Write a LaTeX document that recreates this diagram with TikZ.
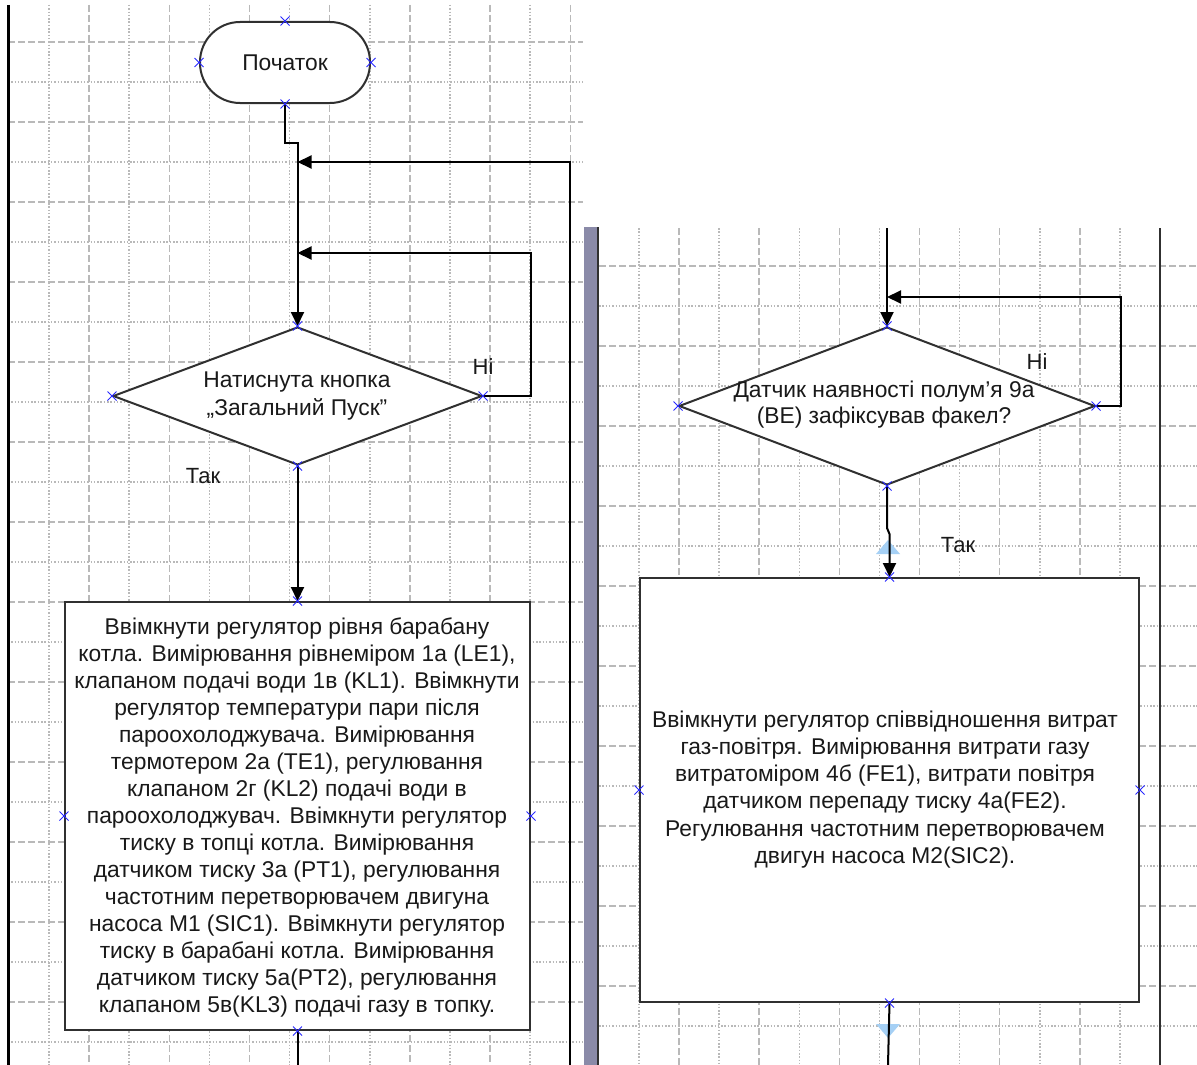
\documentclass[tikz,border=0pt]{standalone}
\usepackage{fontspec}
\setmainfont{Liberation Sans}
\usetikzlibrary{shapes.geometric,shapes.misc,arrows.meta}
\definecolor{gridc}{RGB}{185,185,185}
\definecolor{barc}{RGB}{138,138,168}
\definecolor{linec}{RGB}{48,48,48}
\definecolor{txtc}{RGB}{25,25,25}
\definecolor{markc}{RGB}{40,40,255}
\definecolor{handc}{RGB}{165,208,245}
\begin{document}
\begin{tikzpicture}[x=1pt,y=-1pt,
 gdash/.style={draw=gridc,line width=1.5pt,dash pattern=on 7pt off 3pt},
 gdot/.style={draw=gridc,line width=1.5pt,dash pattern=on 1.5pt off 1.8pt},
 shapeline/.style={draw=linec,line width=2pt,fill=white},
 term/.style={shapeline,rectangle,rounded corners=40pt,minimum width=170pt,minimum height=81pt,inner sep=0pt},
 decision/.style={shapeline,diamond,inner sep=0pt},
 procbox/.style={shapeline,rectangle,inner sep=0pt},
 txt/.style={text=txtc,font=\fontsize{22.8}{27.07}\selectfont,align=center,inner sep=0pt},
 conn/.style={draw=black,line width=2pt},
 arr/.style={conn,-{Triangle[length=14pt,width=13pt]}},
 xmark/.style={cross out,draw=markc,line width=1pt,minimum size=8pt,inner sep=0pt},
 lbl/.style={text=txtc,font=\fontsize{22}{25}\selectfont,inner sep=0pt},
]
\useasboundingbox (0,0) rectangle (1197,1065);
\fill[white] (0,0) rectangle (1197,1065);
% left grid
\foreach \xx in {49,129.2,209.4,289.6,369.8,450,530.2}{
  \draw[gdot] (\xx,5) -- (\xx,1065);
}
\foreach \xx in {89.1,169.3,249.5,329.7,409.9,490.1,570.3}{
  \draw[gdash] (\xx,5) -- (\xx,1065);
}
\foreach \yy in {42,122,...,1042}{
  \draw[gdash] (8,\yy) -- (583,\yy);
}
\foreach \yy in {82,162,...,1042}{
  \draw[gdot] (8,\yy) -- (583,\yy);
}
% right grid
\foreach \xx in {639,719.2,799.3,879.5,959.6,1039.8,1120}{
  \draw[gdot] (\xx,228) -- (\xx,1065);
}
\foreach \xx in {679.1,759.2,839.4,919.6,999.7,1079.9,1160}{
  \draw[gdash] (\xx,228) -- (\xx,1065);
}
\foreach \yy in {266,346,...,1026}{
  \draw[gdash] (599,\yy) -- (1197,\yy);
}
\foreach \yy in {306,386,...,1066}{
  \draw[gdot] (599,\yy) -- (1197,\yy);
}
% panel borders
\draw[black,line width=2.5pt] (8.5,5) -- (8.5,1065);
\fill[barc] (584,227) rectangle (597,1065);
\draw[linec,line width=2pt] (598,227) -- (598,1065);
\draw[linec,line width=2.5pt] (1160,228) -- (1160,1065);
% handles
\fill[handc] (876,554) -- (888,540) -- (900,554) -- cycle;
\fill[handc] (876,1024) -- (900,1024) -- (888,1038) -- cycle;
% nodes
\node[term,font=\fontsize{22.8}{27}\selectfont,text=txtc] (start) at (285,62.5) {Початок};
\node[decision,minimum width=369pt,minimum height=138pt] (d1) at (297.5,396) {};
\node[txt] (d1t) at (297,396) {Натиснута кнопка\\„Загальний Пуск"};
\node[procbox,minimum width=465pt,minimum height=428pt] (b1) at (297.5,816) {};
\node[txt] (b1t) at (297,817.5) {Ввімкнути регулятор рівня барабану\\
котла. Вимірювання рівнеміром 1а (LE1),\\
клапаном подачі води 1в (KL1). Ввімкнути\\
регулятор температури пари після\\
пароохолоджувача. Вимірювання\\
термотером 2а (TE1), регулювання\\
клапаном 2г (KL2) подачі води в\\
пароохолоджувач. Ввімкнути регулятор\\
тиску в топці котла. Вимірювання\\
датчиком тиску 3а (PT1), регулювання\\
частотним перетворювачем двигуна\\
насоса М1 (SIC1). Ввімкнути регулятор\\
тиску в барабані котла. Вимірювання\\
датчиком тиску 5а(PT2), регулювання\\
клапаном 5в(KL3) подачі газу в топку.};
\node[decision,minimum width=416pt,minimum height=158pt] (d2) at (887,406) {};
\node[txt,font=\fontsize{22.8}{26}\selectfont] (d2t) at (884,405) {Датчик наявності полум’я 9а\\(BE) зафіксував факел?};
\node[procbox,minimum width=499pt,minimum height=424pt] (b2) at (889.5,790) {};
\node[txt] (b2t) at (885,789.5) {Ввімкнути регулятор співвідношення витрат\\
газ-повітря. Вимірювання витрати газу\\
витратоміром 4б (FE1), витрати повітря\\
датчиком перепаду тиску 4а(FE2).\\
Регулювання частотним перетворювачем\\
двигун насоса М2(SIC2).};
% coordinates
\coordinate (jog1) at (285,143);
\coordinate (lpA) at (570,1065);
\coordinate (j1) at (297.5,162);
\coordinate (j2) at (297.5,253);
\coordinate (endL) at (297.5,1065);
\coordinate (topR) at (887,228);
\coordinate (j3) at (887,297);
\coordinate (endR) at (888,1065);
% connectors
\draw[arr] (start.south) -- (jog1) -| (d1.north);
\draw[arr] (lpA) |- (j1);
\draw[arr] (d1.east) -- ++(48,0) |- (j2);
\draw[arr] (d1.south) -- (b1.north);
\draw[conn] (b1.south) -- (endL);
\draw[arr] (topR) -- (d2.north);
\draw[arr] (d2.east) -- ++(25,0) |- (j3);
\draw[arr] (d2.south) -- ++(0,42) -- ++(2.5,6) -- (b2.north);
\draw[conn] (b2.south) -- (endR);
% markers
\foreach \n in {start,d1,b1,d2,b2}{
  \foreach \a in {north,south,east,west}{
    \node[xmark] at (\n.\a) {};
  }
}
% labels
\node[lbl] (no1) at (483,367) {Ні};
\node[lbl] (yes1) at (203,476) {Так};
\node[lbl] (no2) at (1037,362) {Ні};
\node[lbl] (yes2) at (958,545) {Так};
\end{tikzpicture}
\end{document}
